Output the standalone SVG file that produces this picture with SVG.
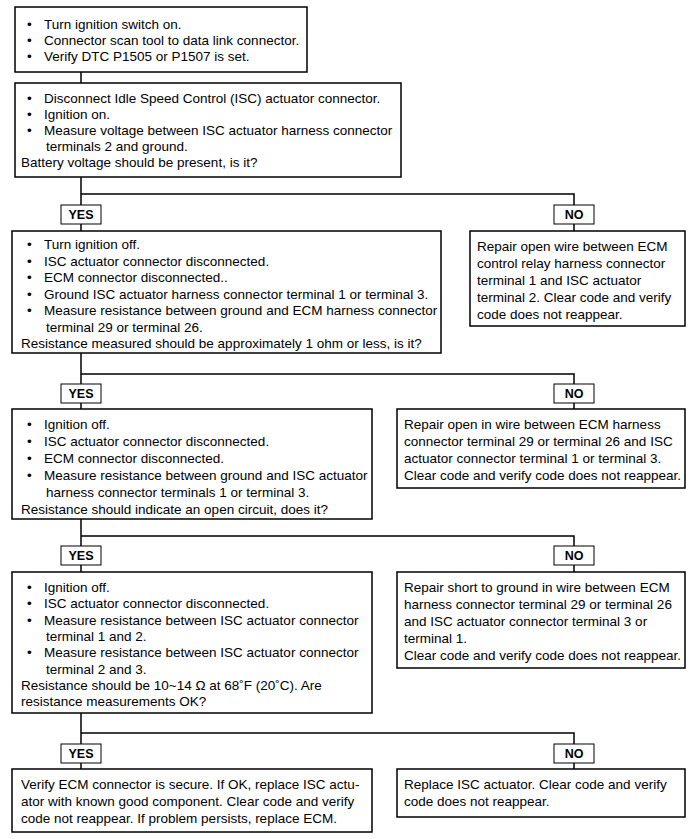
<svg xmlns="http://www.w3.org/2000/svg" width="700" height="839" viewBox="0 0 700 839">
<style>
.box{fill:#fff;stroke:#000;stroke-width:1.5}
.lbl{fill:#fff;stroke:#000;stroke-width:1}
.t{font-family:"Liberation Sans",Arial,sans-serif;font-size:13.5px;fill:#000}
.b{font-family:"Liberation Sans",Arial,sans-serif;font-size:12.5px;font-weight:bold;fill:#000;text-anchor:middle}
.c{fill:none;stroke:#000;stroke-width:1.5}
</style>
<rect width="700" height="839" fill="#fff"/>
<g id="connectors">
<path class="c" d="M81 72V83"/>
<path class="c" d="M81 177V231M81 194H574V231"/>
<path class="c" d="M81 353V409M81 374H574V409"/>
<path class="c" d="M81 519V572M81 536H574V572"/>
<path class="c" d="M81 713V769M81 733H574V769"/>
</g>
<g id="n1">
<rect class="box" x="15" y="7" width="292" height="65"/>
<text class="t"><tspan x="27" y="29">•</tspan><tspan x="44" y="29">Turn ignition switch on.</tspan><tspan x="27" y="45">•</tspan><tspan x="44" y="45">Connector scan tool to data link connector.</tspan><tspan x="27" y="61">•</tspan><tspan x="44" y="61">Verify DTC P1505 or P1507 is set.</tspan></text>
</g>
<g id="n2">
<rect class="box" x="15" y="83" width="386" height="94"/>
<text class="t"><tspan x="27" y="103">•</tspan><tspan x="44" y="103">Disconnect Idle Speed Control (ISC) actuator connector.</tspan><tspan x="27" y="119">•</tspan><tspan x="44" y="119">Ignition on.</tspan><tspan x="27" y="135">•</tspan><tspan x="44" y="135">Measure voltage between ISC actuator harness connector</tspan><tspan x="46" y="151">terminals 2 and ground.</tspan><tspan x="21" y="167">Battery voltage should be present, is it?</tspan></text>
</g>
<g id="yes1"><rect class="lbl" x="61" y="205" width="40" height="19"/><text class="b" x="81" y="219">YES</text></g>
<g id="no1"><rect class="lbl" x="554" y="205" width="40" height="19"/><text class="b" x="574" y="219">NO</text></g>
<g id="n3">
<rect class="box" x="12" y="231" width="429" height="122"/>
<text class="t"><tspan x="27" y="249">•</tspan><tspan x="44" y="249">Turn ignition off.</tspan><tspan x="27" y="265.5">•</tspan><tspan x="44" y="265.5">ISC actuator connector disconnected.</tspan><tspan x="27" y="282">•</tspan><tspan x="44" y="282">ECM connector disconnected..</tspan><tspan x="27" y="298.5">•</tspan><tspan x="44" y="298.5">Ground ISC actuator harness connector terminal 1 or terminal 3.</tspan><tspan x="27" y="315">•</tspan><tspan x="44" y="315">Measure resistance between ground and ECM harness connector</tspan><tspan x="46" y="331.5">terminal 29 or terminal 26.</tspan><tspan x="21" y="348">Resistance measured should be approximately 1 ohm or less, is it?</tspan></text>
</g>
<g id="n3no">
<rect class="box" x="470" y="231" width="215" height="95"/>
<text class="t"><tspan x="477" y="251">Repair open wire between ECM</tspan><tspan x="477" y="268">control relay harness connector</tspan><tspan x="477" y="285">terminal 1 and ISC actuator</tspan><tspan x="477" y="302">terminal 2. Clear code and verify</tspan><tspan x="477" y="319">code does not reappear.</tspan></text>
</g>
<g id="yes2"><rect class="lbl" x="61" y="384" width="40" height="19"/><text class="b" x="81" y="398">YES</text></g>
<g id="no2"><rect class="lbl" x="554" y="384" width="40" height="19"/><text class="b" x="574" y="398">NO</text></g>
<g id="n4">
<rect class="box" x="12" y="409" width="360" height="110"/>
<text class="t"><tspan x="27" y="429">•</tspan><tspan x="44" y="429">Ignition off.</tspan><tspan x="27" y="446">•</tspan><tspan x="44" y="446">ISC actuator connector disconnected.</tspan><tspan x="27" y="463">•</tspan><tspan x="44" y="463">ECM connector disconnected.</tspan><tspan x="27" y="480">•</tspan><tspan x="44" y="480">Measure resistance between ground and ISC actuator</tspan><tspan x="46" y="497">harness connector terminals 1 or terminal 3.</tspan><tspan x="21" y="514">Resistance should indicate an open circuit, does it?</tspan></text>
</g>
<g id="n4no">
<rect class="box" x="397" y="409" width="288" height="79"/>
<text class="t"><tspan x="404" y="429">Repair open in wire between ECM harness</tspan><tspan x="404" y="446">connector terminal 29 or terminal 26 and ISC</tspan><tspan x="404" y="463">actuator connector terminal 1 or terminal 3.</tspan><tspan x="404" y="480">Clear code and verify code does not reappear.</tspan></text>
</g>
<g id="yes3"><rect class="lbl" x="61" y="546" width="40" height="19"/><text class="b" x="81" y="560">YES</text></g>
<g id="no3"><rect class="lbl" x="554" y="546" width="40" height="19"/><text class="b" x="574" y="560">NO</text></g>
<g id="n5">
<rect class="box" x="12" y="572" width="360" height="141"/>
<text class="t"><tspan x="27" y="592">•</tspan><tspan x="44" y="592">Ignition off.</tspan><tspan x="27" y="608.3">•</tspan><tspan x="44" y="608.3">ISC actuator connector disconnected.</tspan><tspan x="27" y="624.6">•</tspan><tspan x="44" y="624.6">Measure resistance between ISC actuator connector</tspan><tspan x="46" y="640.9">terminal 1 and 2.</tspan><tspan x="27" y="657.2">•</tspan><tspan x="44" y="657.2">Measure resistance between ISC actuator connector</tspan><tspan x="46" y="673.5">terminal 2 and 3.</tspan><tspan x="21" y="689.8">Resistance should be 10~14 Ω at 68˚F (20˚C). Are</tspan><tspan x="21" y="706.1">resistance measurements OK?</tspan></text>
</g>
<g id="n5no">
<rect class="box" x="397" y="572" width="288" height="96"/>
<text class="t"><tspan x="404" y="592">Repair short to ground in wire between ECM</tspan><tspan x="404" y="609">harness connector terminal 29 or terminal 26</tspan><tspan x="404" y="626">and ISC actuator connector terminal 3 or</tspan><tspan x="404" y="643">terminal 1.</tspan><tspan x="404" y="660">Clear code and verify code does not reappear.</tspan></text>
</g>
<g id="yes4"><rect class="lbl" x="61" y="744" width="40" height="19"/><text class="b" x="81" y="758">YES</text></g>
<g id="no4"><rect class="lbl" x="554" y="744" width="40" height="19"/><text class="b" x="574" y="758">NO</text></g>
<g id="n6">
<rect class="box" x="12" y="769" width="360" height="63"/>
<text class="t"><tspan x="21" y="789">Verify ECM connector is secure. If OK, replace ISC actu-</tspan><tspan x="21" y="806">ator with known good component. Clear code and verify</tspan><tspan x="21" y="823">code not reappear. If problem persists, replace ECM.</tspan></text>
</g>
<g id="n6no">
<rect class="box" x="397" y="769" width="288" height="48"/>
<text class="t"><tspan x="404" y="789">Replace ISC actuator. Clear code and verify</tspan><tspan x="404" y="806">code does not reappear.</tspan></text>
</g>
</svg>
